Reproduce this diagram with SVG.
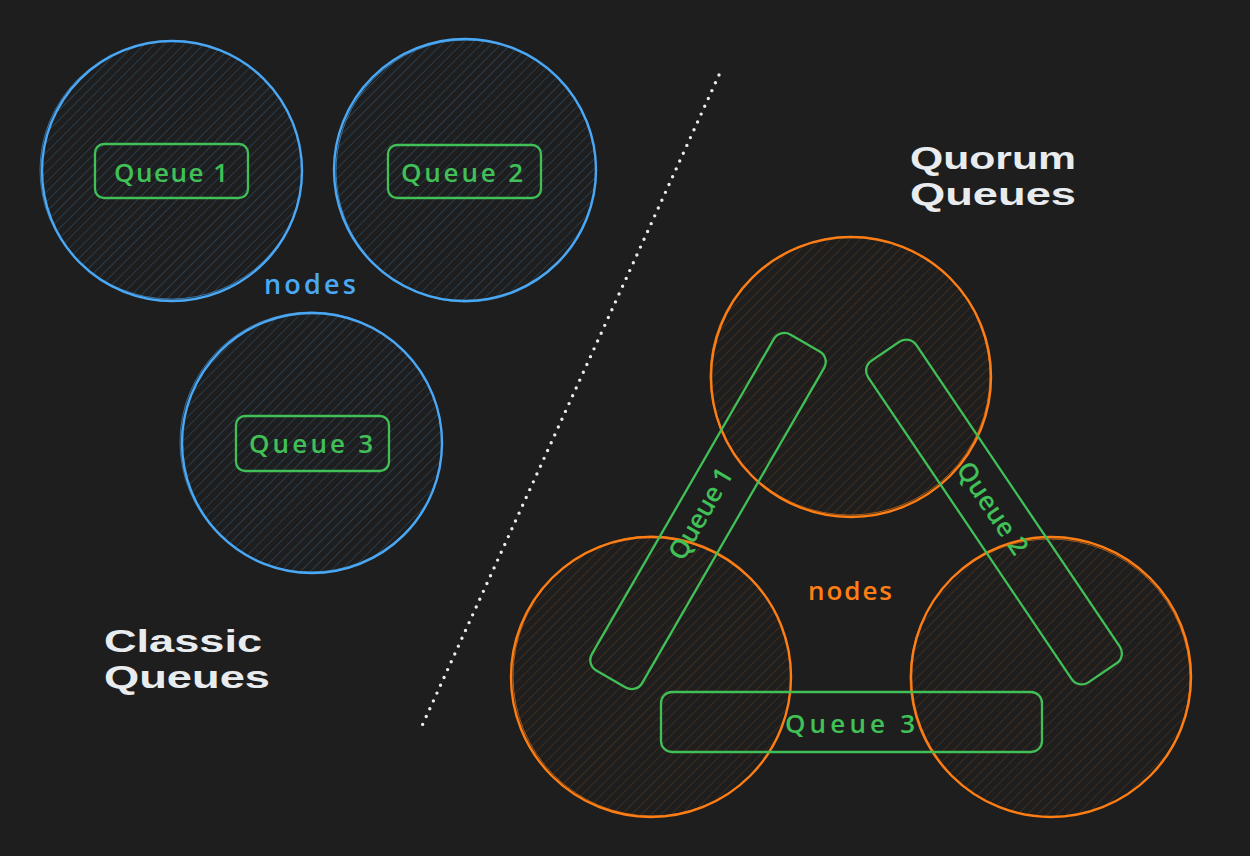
<svg xmlns="http://www.w3.org/2000/svg" width="1250" height="856" viewBox="0 0 1250 856">
  <defs>
    <pattern id="hatchBlue" patternUnits="userSpaceOnUse" width="7" height="7" patternTransform="rotate(45)">
      <line x1="0" y1="0" x2="0" y2="7" stroke="#4aa8f5" stroke-opacity="0.42" stroke-width="1"/>
    </pattern>
    <pattern id="hatchOrange" patternUnits="userSpaceOnUse" width="7" height="7" patternTransform="rotate(45)">
      <line x1="0" y1="0" x2="0" y2="7" stroke="#fd7e14" stroke-opacity="0.3" stroke-width="1"/>
    </pattern>
    <style>
      .bg { fill: #1e1e1e; }
      .blueNode { fill: url(#hatchBlue); stroke: #4aa8f5; stroke-width: 2.4; }
      .orangeNode { fill: url(#hatchOrange); stroke: #fd7e14; stroke-width: 2.4; }
      .sketch { fill: none; stroke-width: 1; stroke-opacity: 0.6; }
      .queue { fill: none; stroke: #40c057; stroke-width: 2.3; }
      .qtext { fill: #40c057; font-family: "Open Sans", "Noto Sans", sans-serif; font-size: 26px; font-weight: 600; text-anchor: middle; dominant-baseline: central; }
      .title { fill: #e9ecef; font-family: "Liberation Sans", Arial, sans-serif; font-size: 32px; font-weight: 700; }
      .nodesBlue { fill: #4aa8f5; font-family: "Open Sans", "Noto Sans", sans-serif; font-size: 27px; font-weight: 600; text-anchor: middle; dominant-baseline: central; }
      .nodesOrange { fill: #fd7e14; font-family: "Open Sans", "Noto Sans", sans-serif; font-size: 26px; font-weight: 600; text-anchor: middle; dominant-baseline: central; }
      .divider { fill: none; stroke: #e9ecef; stroke-width: 3.4; stroke-linecap: round; stroke-dasharray: 0 8.6; }
    </style>
  </defs>

  <rect class="bg" x="0" y="0" width="1250" height="856"/>

  <!-- Classic queue nodes -->
  <g id="classic-node-1">
    <circle class="blueNode" cx="172" cy="171" r="130"/>
    <ellipse class="sketch" stroke="#4aa8f5" cx="171" cy="170" rx="131" ry="129"/>
  </g>
  <g id="classic-node-2">
    <circle class="blueNode" cx="465" cy="170" r="131"/>
    <ellipse class="sketch" stroke="#4aa8f5" cx="466" cy="171" rx="130" ry="131"/>
  </g>
  <g id="classic-node-3">
    <circle class="blueNode" cx="312" cy="443" r="130"/>
    <ellipse class="sketch" stroke="#4aa8f5" cx="311" cy="442" rx="131" ry="130"/>
  </g>

  <g id="classic-queue-1">
    <rect class="queue" x="95" y="144" width="153" height="54" rx="9"/>
    <text class="qtext" x="171" y="172" textLength="114" lengthAdjust="spacing">Queue 1</text>
  </g>
  <g id="classic-queue-2">
    <rect class="queue" x="388" y="145" width="153" height="53" rx="9"/>
    <text class="qtext" x="462" y="172" textLength="122" lengthAdjust="spacing">Queue 2</text>
  </g>
  <g id="classic-queue-3">
    <rect class="queue" x="236" y="416" width="153" height="55" rx="9"/>
    <text class="qtext" x="311" y="443" textLength="124" lengthAdjust="spacing">Queue 3</text>
  </g>

  <g id="classic-nodes-label">
    <text class="nodesBlue" x="310" y="283" textLength="92" lengthAdjust="spacing">nodes</text>
  </g>

  <g id="classic-title">
    <text class="title" x="104" y="652" textLength="158" lengthAdjust="spacingAndGlyphs">Classic</text>
    <text class="title" x="104" y="688" textLength="166" lengthAdjust="spacingAndGlyphs">Queues</text>
  </g>

  <!-- Divider -->
  <g id="connectors">
    <line class="divider" x1="719" y1="75" x2="421" y2="728"/>
  </g>

  <!-- Quorum queue nodes -->
  <g id="quorum-node-top">
    <circle class="orangeNode" cx="851" cy="377" r="140"/>
    <ellipse class="sketch" stroke="#fd7e14" cx="850" cy="376" rx="140" ry="139"/>
  </g>
  <g id="quorum-node-left">
    <circle class="orangeNode" cx="651" cy="677" r="140"/>
    <ellipse class="sketch" stroke="#fd7e14" cx="652" cy="676" rx="139" ry="140"/>
  </g>
  <g id="quorum-node-right">
    <circle class="orangeNode" cx="1051" cy="677" r="140"/>
    <ellipse class="sketch" stroke="#fd7e14" cx="1050" cy="678" rx="140" ry="139"/>
  </g>

  <g id="quorum-queue-1">
    <g transform="translate(708 511) rotate(-60)">
      <rect class="queue" x="-194" y="-29" width="388" height="58" rx="12"/>
      <text class="qtext" x="-6" y="-6" textLength="102" lengthAdjust="spacing">Queue 1</text>
    </g>
  </g>
  <g id="quorum-queue-2">
    <g transform="translate(994 512) rotate(56)">
      <rect class="queue" x="-194" y="-29" width="388" height="58" rx="12"/>
      <text class="qtext" x="-4" y="-2" textLength="106" lengthAdjust="spacing">Queue 2</text>
    </g>
  </g>
  <g id="quorum-queue-3">
    <rect class="queue" x="661" y="692" width="381" height="60" rx="11"/>
    <text class="qtext" x="850" y="723" textLength="130" lengthAdjust="spacing">Queue 3</text>
  </g>

  <g id="quorum-nodes-label">
    <text class="nodesOrange" x="850" y="590" textLength="84" lengthAdjust="spacing">nodes</text>
  </g>

  <g id="quorum-title">
    <text class="title" x="910" y="169" textLength="166" lengthAdjust="spacingAndGlyphs">Quorum</text>
    <text class="title" x="910" y="205" textLength="166" lengthAdjust="spacingAndGlyphs">Queues</text>
  </g>
</svg>
